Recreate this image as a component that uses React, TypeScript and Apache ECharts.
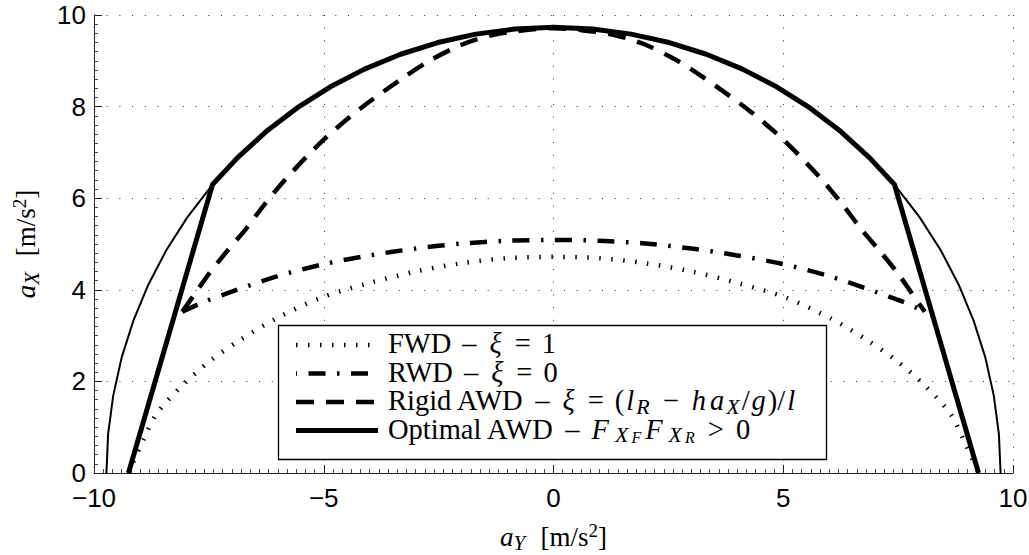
import React, { useEffect, useRef } from "react";
import * as echarts from "echarts";

// Friction circle (a_Y, a_X) in m/s^2
const frictionCircle: [number, number][] = [
  [-9.73, 0], [-9.693, 0.848], [-9.582, 1.69], [-9.399, 2.518], [-9.143, 3.328],
  [-8.818, 4.112], [-8.427, 4.865], [-7.97, 5.581], [-7.454, 6.254], [-6.88, 6.88],
  [-6.254, 7.454], [-5.581, 7.97], [-4.865, 8.427], [-4.112, 8.818], [-3.328, 9.143],
  [-2.518, 9.399], [-1.69, 9.582], [-0.848, 9.693], [0, 9.73],
  [0.848, 9.693], [1.69, 9.582], [2.518, 9.399], [3.328, 9.143], [4.112, 8.818],
  [4.865, 8.427], [5.581, 7.97], [6.254, 7.454], [6.88, 6.88], [7.454, 6.254],
  [7.97, 5.581], [8.427, 4.865], [8.818, 4.112], [9.143, 3.328], [9.399, 2.518],
  [9.582, 1.69], [9.693, 0.848], [9.73, 0],
];

// Front wheel drive, xi = 1
const fwd: [number, number][] = [
  [-9.25, 0], [-8.91, 0.76], [-8.64, 1.29], [-8.09, 1.9], [-7.47, 2.45], [-6.81, 2.91],
  [-6.06, 3.36], [-5.08, 3.82], [-4.0, 4.15], [-3.0, 4.4], [-2.0, 4.58], [-1.0, 4.69],
  [0, 4.72],
  [1.0, 4.69], [2.0, 4.58], [3.0, 4.4], [4.0, 4.15], [5.08, 3.82], [6.06, 3.36],
  [6.81, 2.91], [7.47, 2.45], [8.09, 1.9], [8.64, 1.29], [8.91, 0.76], [9.25, 0],
];

// Rear wheel drive, xi = 0
const rwd: [number, number][] = [
  [-8.08, 3.52], [-7.6, 3.74], [-7.0, 3.96], [-6.0, 4.3], [-5.0, 4.56], [-4.0, 4.75],
  [-3.0, 4.9], [-2.0, 5.01], [-1.0, 5.07], [0, 5.09],
  [1.0, 5.07], [2.0, 5.01], [3.0, 4.9], [4.0, 4.75], [5.0, 4.56], [6.0, 4.3],
  [7.0, 3.96], [7.6, 3.74], [8.08, 3.52],
];

// Rigid all wheel drive
const rigidAwd: [number, number][] = [
  [-8.08, 3.52], [-7.8, 3.92], [-7.5, 4.35], [-7.1, 4.85], [-6.7, 5.32], [-6.3, 5.85],
  [-5.8, 6.45], [-5.0, 7.28], [-4.2, 7.96], [-3.3, 8.61], [-2.7, 9.0], [-2.0, 9.35],
  [-1.3, 9.57], [-0.6, 9.67], [0, 9.71],
  [0.6, 9.67], [1.3, 9.57], [2.0, 9.35], [2.7, 9.0], [3.3, 8.61], [4.2, 7.96],
  [5.0, 7.28], [5.8, 6.45], [6.3, 5.85], [6.7, 5.32], [7.1, 4.85], [7.5, 4.35],
  [7.8, 3.92], [8.08, 3.52],
];

// Optimal all wheel drive
const optimalAwd: [number, number][] = [
  [-9.25, 0], [-7.42, 6.3], [-6.88, 6.88], [-6.254, 7.454], [-5.581, 7.97],
  [-4.865, 8.427], [-4.112, 8.818], [-3.328, 9.143], [-2.518, 9.399], [-1.69, 9.582],
  [-0.848, 9.693], [0, 9.73],
  [0.848, 9.693], [1.69, 9.582], [2.518, 9.399], [3.328, 9.143], [4.112, 8.818],
  [4.865, 8.427], [5.581, 7.97], [6.254, 7.454], [6.88, 6.88], [7.42, 6.3], [9.25, 0],
];

const legendRows = [
  "{r|FWD}{s|–}{m|ξ}{s|=}{r|1}",
  "{r|RWD}{s|–}{m|ξ}{s|=}{r|0}",
  "{r|Rigid AWD}{s|–}{m|ξ}{s|=}{r|(}{m|l}{sub|R}{s|−}{m|h}{m|a}{sub|X}{r|/}{m|g}{r|)/}{m|l}",
  "{r|Optimal AWD}{s|–}{F|F}{sub|X}{ss|F}{F|F}{sub|X}{ss|R}{gt|>}{r|0}",
];

const xTitle = "{i|a}{sub|Y}{r|  [m/s}{sup|2}{r|]}";
const yTitle = "{i|a}{sub|X}{r|  [m/s}{sup|2}{r|]}";

const SERIF = "'Liberation Serif', 'Times New Roman', serif";
const SANS = "'Liberation Sans', Arial, sans-serif";

const lineStyles = [
  { width: 4.5, type: [1.5, 10.5] as number[] },
  { width: 4.5, type: [17, 11.5, 2.5, 11.5] as number[] },
  { width: 4.5, type: [18, 12] as number[] },
  { width: 5, type: "solid" as any },
];

function richStyles(size: number, pad: number, subLh: number) {
  const sub = Math.round(size * 0.77);
  const lh = size + 5;
  const base = { fontFamily: SERIF, color: "#000" };
  return {
    r: { ...base, fontSize: size, lineHeight: lh },
    i: { ...base, fontStyle: "italic", fontSize: size, lineHeight: lh },
    m: { ...base, fontStyle: "italic", fontSize: size, lineHeight: lh, padding: [0, 2, 0, 2] },
    F: { ...base, fontStyle: "italic", fontSize: size, lineHeight: lh, padding: [0, 6, 0, 1] },
    s: { ...base, fontSize: size, lineHeight: lh, padding: [0, pad, 0, pad] },
    gt: { ...base, fontSize: size, lineHeight: lh, padding: [0, 12, 0, 10] },
    sub: { ...base, fontStyle: "italic", fontSize: sub, lineHeight: subLh, verticalAlign: "bottom", padding: [0, 2, 0, 0] },
    ss: { ...base, fontStyle: "italic", fontSize: 16, lineHeight: 5, verticalAlign: "bottom", padding: [0, 3, 0, 1] },
    sup: { ...base, fontSize: Math.round(size * 0.7), lineHeight: 14, verticalAlign: "top" },
  };
}

const minus = (v: number) => String(v).replace("-", "\u2212");

export default function App() {
  const ref = useRef<HTMLDivElement>(null);

  useEffect(() => {
    if (!ref.current) return;
    const chart = echarts.init(ref.current, null, { renderer: "svg" });

    const axisCommon = {
      type: "value",
      axisLine: { show: true, onZero: false, lineStyle: { color: "#222", width: 1 } },
      axisTick: { show: true, inside: true, length: 8, lineStyle: { color: "#222", width: 1 } },
      minorTick: { show: true, length: 4, lineStyle: { color: "#444", width: 1 } },
      splitLine: { show: true, lineStyle: { color: "#333", width: 1, type: [1, 11.7] } },
    };

    const legendBox = { x: 278.5, y: 325.5, w: 548, h: 134 };
    const rowY = [345, 373.5, 402, 430.5];

    const graphic: any[] = [
      {
        type: "rect",
        z: 100,
        shape: { x: legendBox.x, y: legendBox.y, width: legendBox.w, height: legendBox.h },
        style: { fill: "#fff", stroke: "#000", lineWidth: 1.3 },
      },
    ];
    rowY.forEach((y, k) => {
      const ls = lineStyles[k];
      graphic.push({
        type: "line",
        z: 101,
        shape: { x1: 296, y1: y, x2: 378, y2: y },
        style: {
          stroke: "#000",
          lineWidth: ls.width,
          lineDash: Array.isArray(ls.type) ? ls.type : null,
          lineDashOffset: k === 1 ? 30 : 0,
        },
      });
      graphic.push({
        type: "text",
        z: 101,
        x: 388,
        y: y - 1.4,
        style: {
          text: legendRows[k],
          rich: richStyles(28.5, 11, 16),
          fontFamily: SERIF,
          fontSize: 28.5,
          align: "left",
          verticalAlign: "middle",
        },
      });
    });

    const series = [
      { data: frictionCircle, lineStyle: { color: "#000", width: 2, type: "solid" }, smooth: false, z: 2 },
      { data: fwd, lineStyle: { color: "#000", width: lineStyles[0].width, type: lineStyles[0].type }, smooth: 0.3, z: 3 },
      { data: rwd, lineStyle: { color: "#000", width: lineStyles[1].width, type: lineStyles[1].type }, smooth: 0.3, z: 3 },
      { data: rigidAwd, lineStyle: { color: "#000", width: lineStyles[2].width, type: lineStyles[2].type }, smooth: 0.3, z: 3 },
      { data: optimalAwd, lineStyle: { color: "#000", width: lineStyles[3].width, type: "solid" }, smooth: false, z: 4 },
    ].map((s) => ({
      type: "line",
      showSymbol: false,
      symbol: "none",
      silent: true,
      ...s,
    }));

    chart.setOption({
      animation: false,
      backgroundColor: "#fff",
      grid: { left: 94, right: 16, top: 15, bottom: 82, containLabel: false, outerBoundsMode: "none" },
      xAxis: {
        ...axisCommon,
        min: -10,
        max: 10,
        interval: 5,
        minorTick: { ...axisCommon.minorTick, splitNumber: 25 },
        axisLabel: {
          fontFamily: SANS,
          fontSize: 26,
          color: "#000",
          margin: 12,
          formatter: (v: number) => minus(v),
        },
        name: xTitle,
        nameLocation: "middle",
        nameGap: 48,
        nameTextStyle: { fontFamily: SERIF, fontSize: 27, rich: richStyles(27, 0, 20) },
      },
      yAxis: {
        ...axisCommon,
        min: 0,
        max: 10,
        interval: 2,
        minorTick: { ...axisCommon.minorTick, splitNumber: 10 },
        axisLabel: {
          fontFamily: SANS,
          fontSize: 26,
          color: "#000",
          margin: 8,
          formatter: (v: number) => minus(v),
        },
        name: yTitle,
        nameLocation: "middle",
        nameRotate: 90,
        nameGap: 52,
        nameTextStyle: { fontFamily: SERIF, fontSize: 27, rich: richStyles(27, 0, 20) },
      },
      series,
      graphic,
    });

    return () => chart.dispose();
  }, []);

  return (
    <div
      ref={ref}
      style={{ position: "fixed", left: 0, top: 0, width: 1029, height: 555, background: "#fff" }}
    />
  );
}
